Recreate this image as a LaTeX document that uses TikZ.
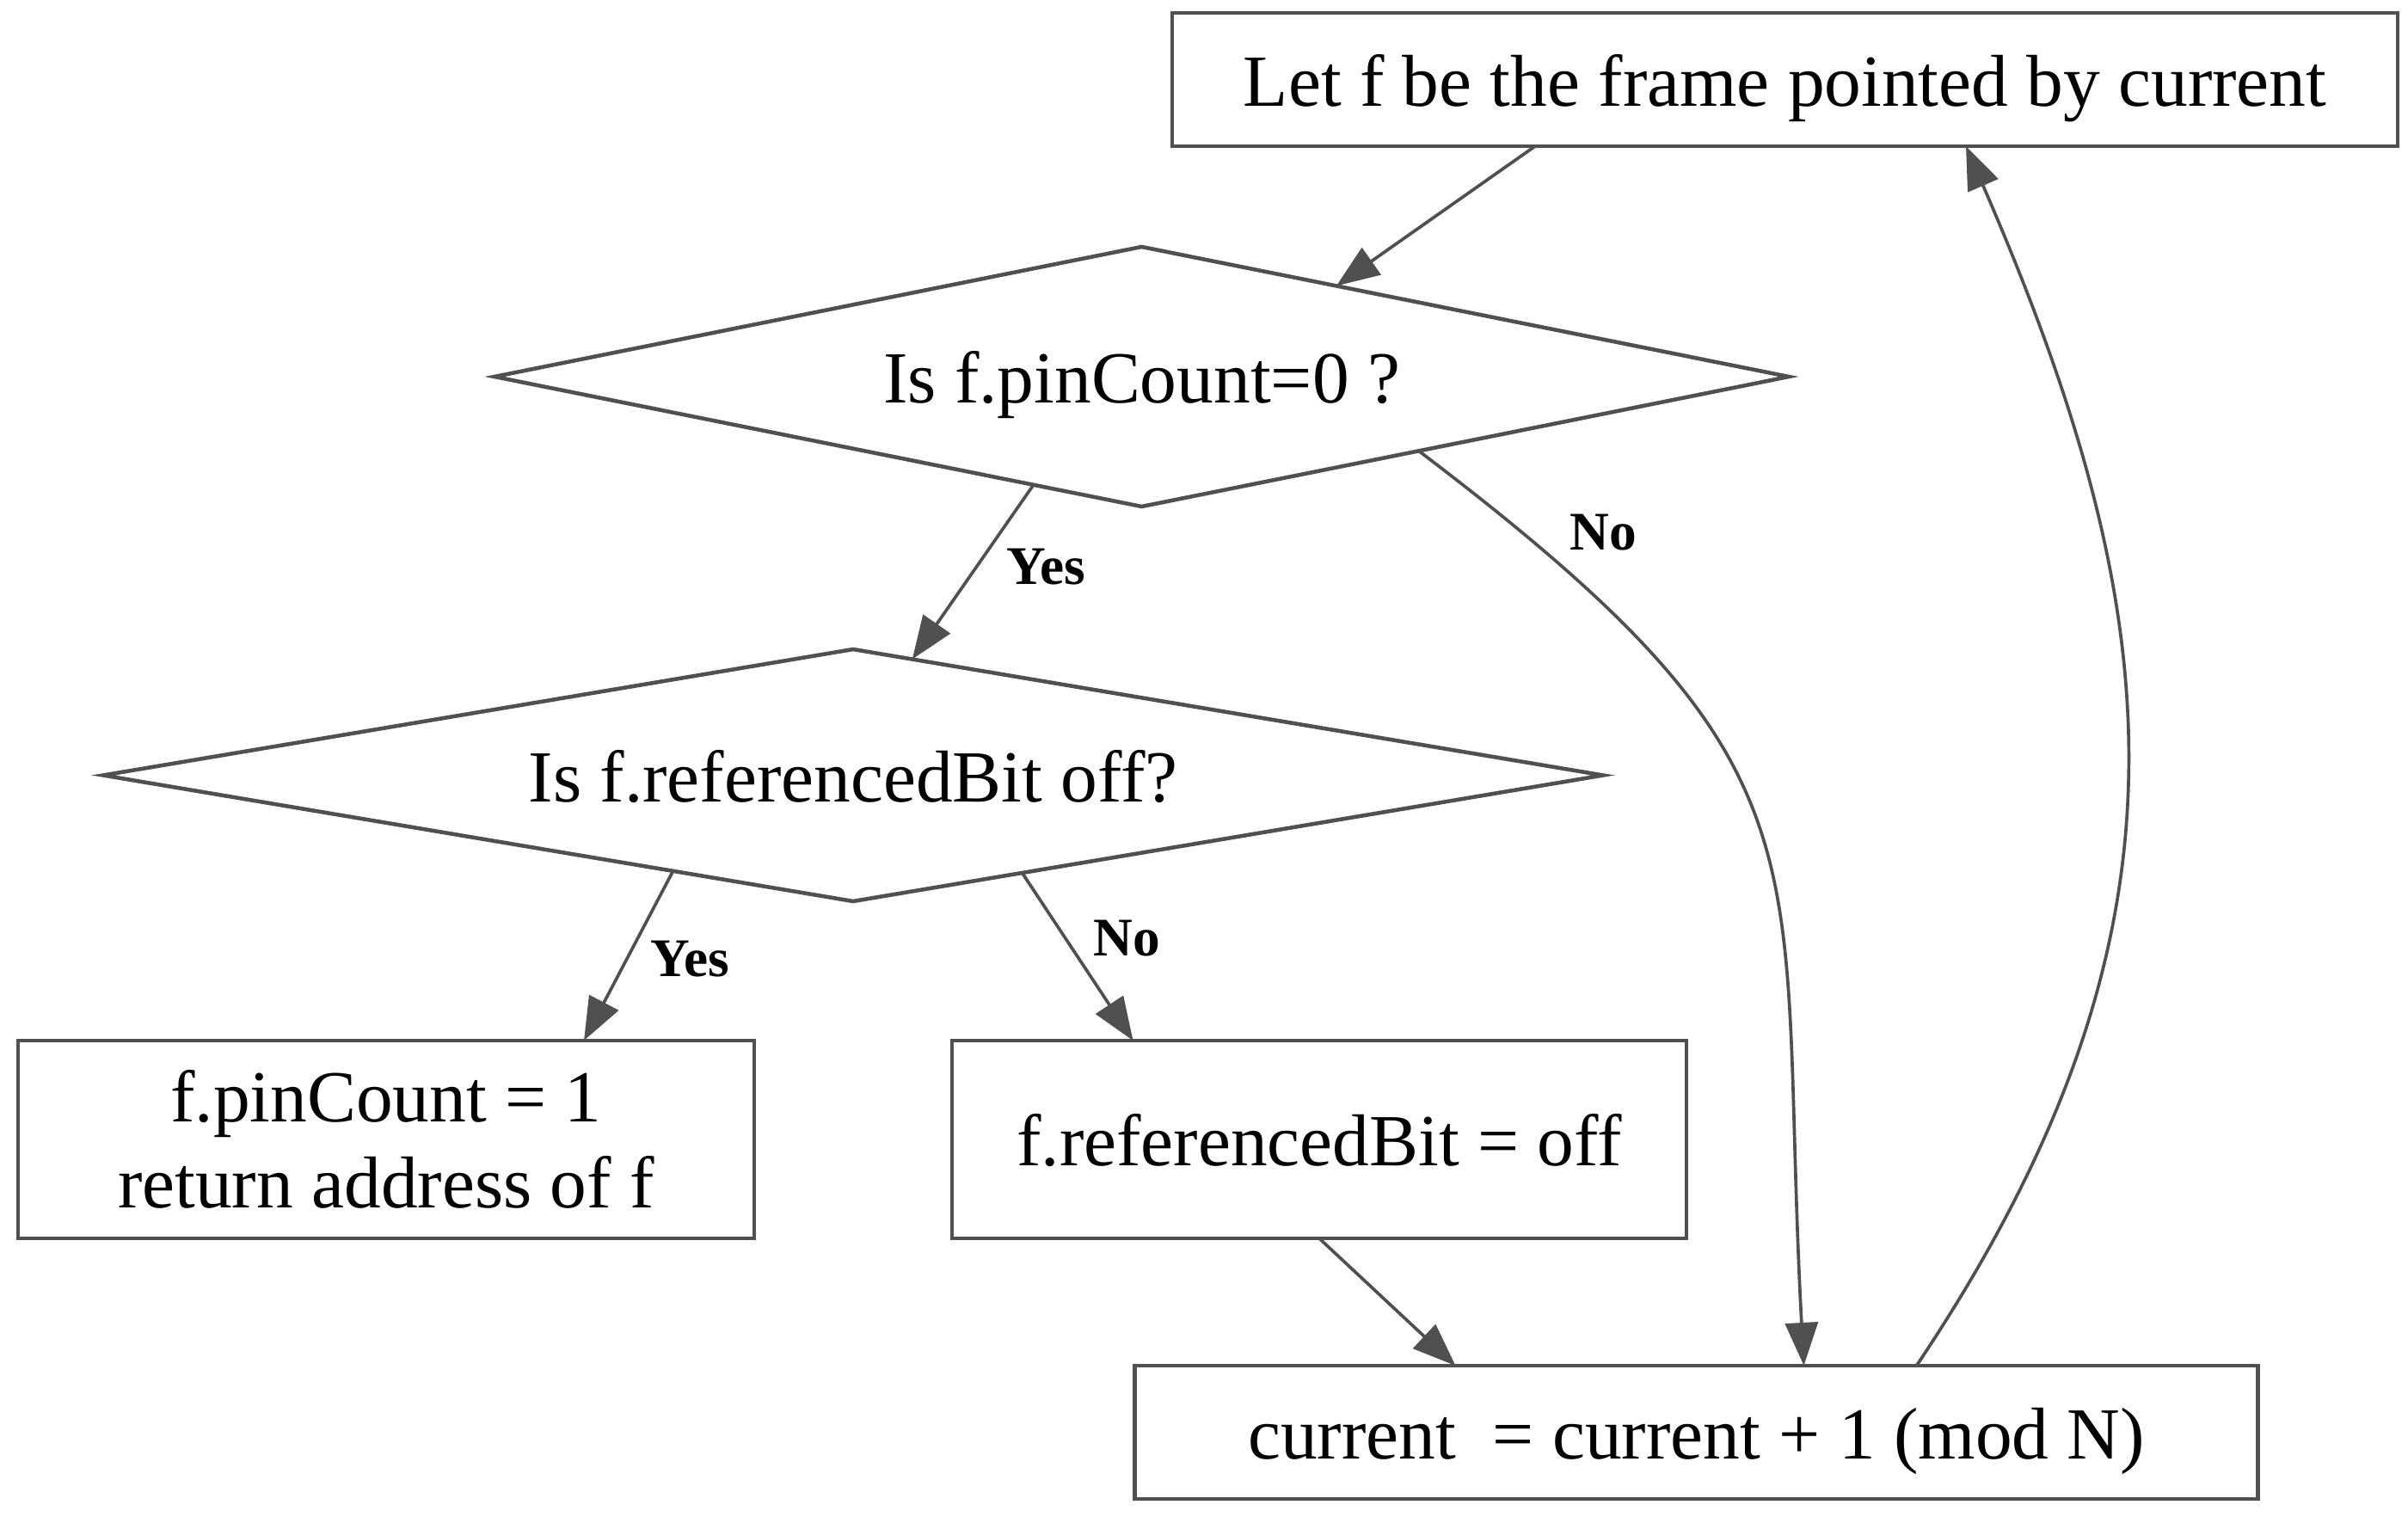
\documentclass[tikz,border=0pt]{standalone}
\usepackage{fontspec}
\setmainfont{Liberation Serif}
\usetikzlibrary{arrows.meta,positioning,shapes.geometric}
\definecolor{flowgray}{HTML}{505050}

\begin{document}
\begin{tikzpicture}[->,>={Triangle[length=0.5cm,width=0.38cm]},line width=1.05pt,color=flowgray,
    every node/.style={outer sep=0pt,text=black,font=\fontsize{24.3}{28.5}\selectfont},
    box/.style={draw,rectangle,line width=1.3pt,inner sep=0pt},
    single/.style={text height=17.6pt,text depth=0pt},
    decision/.style={draw,diamond,line width=1.3pt,inner sep=0pt,text height=17.6pt,text depth=0pt},
    lbl/.style={font=\fontsize{18}{21}\selectfont\bfseries,inner sep=0pt}]
    \useasboundingbox (0,0) rectangle (28,-17.64);

    \node[box, single, minimum width=14.25cm, minimum height=1.55cm] (top) at (20.755,-0.925) {Let f be the frame pointed by current};

    %decisions
    \node[decision, aspect=5, minimum width=15.05cm, minimum height=3.02cm] (pin0) [below=1.17cm of top, xshift=-7.48cm] {Is f.pinCount=0 ?};
    \node[decision, aspect=6, minimum width=17.44cm, minimum height=2.93cm] (refbit) [below=1.66cm of pin0, xshift=-3.355cm] {Is f.referencedBit off?};

    %actions
    \node[box, align=center, minimum width=8.56cm, minimum height=2.30cm] (found) [below=1.62cm of refbit, xshift=-5.43cm] {f.pinCount = 1\\return address of f};
    \node[box, single, minimum width=8.54cm, minimum height=2.30cm] (clear) [right=2.30cm of found] {f.referencedBit = off};
    \node[box, single, minimum width=13.06cm, minimum height=1.55cm] (advance) [below=1.48cm of clear, xshift=4.385cm] {current\ \ = current + 1 (mod N)};

    \path[->]
    ([xshift=-2.905cm]top.south) edge (pin0.25)
    (pin0.225) edge node[lbl, pos=0.47, right=0.35cm] {Yes} (refbit.63)
    (refbit.208) edge node[lbl, pos=0.52, right=0.28cm] {Yes} ([xshift=2.30cm]found.north)
    (refbit.330) edge node[lbl, pos=0.39, right=0.33cm] {No} ([xshift=-2.165cm]clear.north)
    (clear.south) edge ([xshift=-2.80cm]advance.north);

    %curved ones
    \draw (pin0.345) .. controls (21.45,-9.0) and (20.65,-9.84) .. ([xshift=1.25cm]advance.north) node[lbl, pos=0.09, right=0.56cm] {No};
    \draw ([xshift=2.56cm]advance.north) .. controls (25.63,-10.89) and (25.26,-7.23) .. ([xshift=2.105cm]top.south);

\end{tikzpicture}
\end{document}
